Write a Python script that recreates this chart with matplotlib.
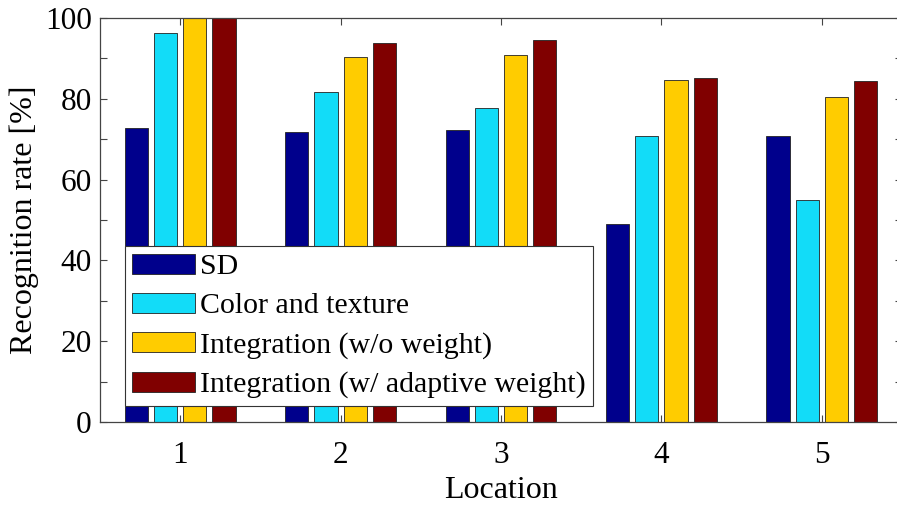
import numpy as np
import matplotlib.pyplot as plt
from matplotlib.ticker import MultipleLocator

plt.rcParams['font.family'] = ['Liberation Serif', 'DejaVu Serif']

locations = [1, 2, 3, 4, 5]
sd = [72.8, 71.8, 72.3, 49.0, 70.8]
color_texture = [96.3, 81.7, 77.7, 70.8, 55.0]
integ_no_w = [100.0, 90.3, 90.8, 84.7, 80.4]
integ_adapt_w = [100.0, 93.8, 94.6, 85.1, 84.4]

labels = ['SD', 'Color and texture', 'Integration (w/o weight)',
          'Integration (w/ adaptive weight)']
colors = ['#00008c', '#12dcf8', '#ffcc00', '#800000']

fig = plt.figure(figsize=(8.97, 5.08), dpi=100)
ax = fig.add_axes([0.1115, 0.1693, 0.894, 0.7953])

X = np.array(locations)
step = 0.182
w = 0.145
series = [sd, color_texture, integ_no_w, integ_adapt_w]
for i, (vals, lab, c) in enumerate(zip(series, labels, colors)):
    ax.bar(X + (i - 1.5) * step, vals, width=w, color=c, edgecolor='#222222',
           linewidth=0.6, label=lab, zorder=2)

ax.set_xlim(0.5, 5.5)
ax.set_ylim(0, 100)
ax.set_xticks(locations)
ax.yaxis.set_major_locator(MultipleLocator(20))
ax.yaxis.set_minor_locator(MultipleLocator(10))
ax.tick_params(axis='both', which='both', direction='in', top=True, right=True,
               length=5, width=0.8, color='#444444', labelsize=22.5)
ax.tick_params(axis='x', pad=14)
ax.tick_params(axis='y', pad=6)
for s in ax.spines.values():
    s.set_color('#444444')
    s.set_linewidth(0.9)

ax.set_xlabel('Location', fontsize=23, labelpad=4)
ax.set_ylabel('Recognition rate [%]', fontsize=23, labelpad=4)

leg = ax.legend(loc='lower left', bbox_to_anchor=(0.031, 0.04), fontsize=21.5,
                frameon=True, fancybox=False, framealpha=1, edgecolor='#333333',
                handlelength=2.1, handleheight=0.65, handletextpad=0.15,
                labelspacing=0.42, borderpad=0.25, borderaxespad=0)
leg.get_frame().set_linewidth(0.8)
leg.set_zorder(5)

plt.savefig('out.png', dpi=100)
